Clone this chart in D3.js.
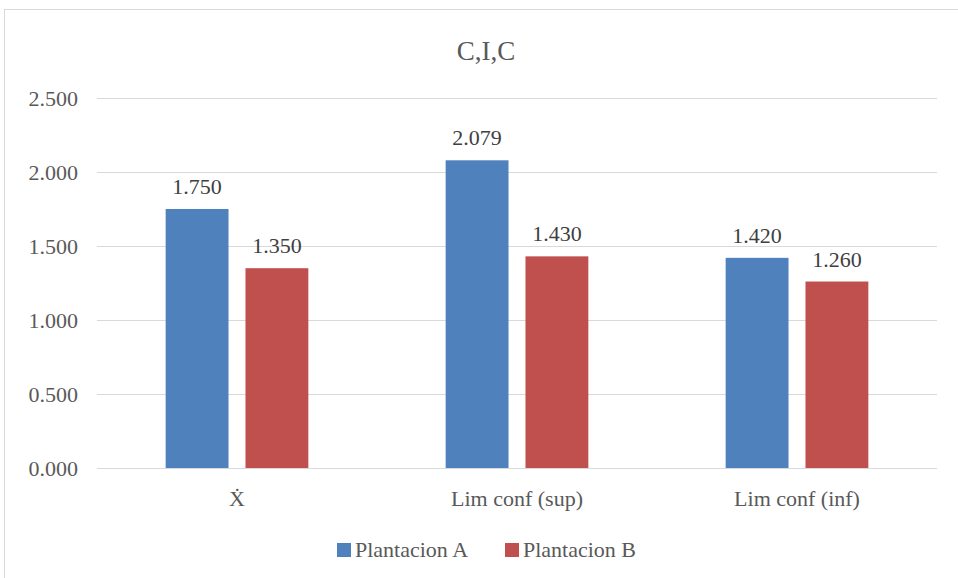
<!DOCTYPE html>
<html><head><meta charset="utf-8">
<script src="https://cdn.jsdelivr.net/npm/d3@7"></script>
<style>body{margin:0;background:#fff}svg{display:block}svg text{font-family:"Liberation Serif","Tinos","DejaVu Serif",serif}</style>
</head><body>
<script>
const categories = ["Ẋ", "Lim conf (sup)", "Lim conf (inf)"];
const seriesNames = ["Plantacion A", "Plantacion B"];
const plantacionA = [1.750, 2.079, 1.420];
const plantacionB = [1.350, 1.430, 1.260];
const yTicks = [0, 0.5, 1.0, 1.5, 2.0, 2.5];
const colors = ["#4F81BD", "#C0504D"];
const title = "C,I,C";

const W = 958, H = 578;
const font = "Liberation Serif, Tinos, DejaVu Serif, serif";
const svg = d3.select("body").append("svg").attr("width", W).attr("height", H)
  .attr("font-family", font);
svg.append("rect").attr("x", 4.5).attr("y", 9.5).attr("width", W).attr("height", H)
  .attr("fill", "#fff").attr("stroke", "#d9d9d9").attr("stroke-width", 1);

const m = {left: 97, right: 937, top: 98, bottom: 468};
const x = d3.scaleBand().domain(categories).range([m.left, m.right]).paddingInner(0).paddingOuter(0);
const x1 = d3.scaleBand().domain(seriesNames).range([0, x.bandwidth()]).paddingInner(0.2125).paddingOuter(0.86);
const y = d3.scaleLinear().domain([0, 2.5]).range([m.bottom, m.top]);

const yAxis = d3.axisLeft(y).tickValues(yTicks).tickSize(-(m.right - m.left)).tickFormat(d3.format(".3f"));
const gy = svg.append("g").attr("transform", `translate(${m.left},0)`).call(yAxis)
  .attr("font-family", font);
gy.select(".domain").remove();
gy.selectAll(".tick line").attr("stroke", "#d9d9d9").attr("stroke-width", 1);
gy.selectAll(".tick text").attr("x", -19).attr("fill", "#595959").attr("font-size", 22);

const data = categories.map((c, i) => ({c, vals: [plantacionA[i], plantacionB[i]]}));
const groups = svg.selectAll("g.cat").data(data).join("g").attr("class", "cat")
  .attr("transform", d => `translate(${x(d.c)},0)`);
groups.selectAll("rect").data(d => d.vals.map((v, j) => ({v, s: seriesNames[j], j})))
  .join("rect")
  .attr("x", d => x1(d.s)).attr("width", x1.bandwidth())
  .attr("y", d => y(d.v)).attr("height", d => y(0) - y(d.v))
  .attr("fill", d => colors[d.j]);
groups.selectAll("text.val").data(d => d.vals.map((v, j) => ({v, s: seriesNames[j], j})))
  .join("text").attr("class", "val")
  .attr("x", d => x1(d.s) + x1.bandwidth() / 2).attr("y", d => y(d.v) - 15)
  .attr("text-anchor", "middle").attr("fill", "#404040").attr("font-size", 22)
  .text(d => d3.format(".3f")(d.v));

svg.append("line").attr("x1", m.left).attr("x2", m.right).attr("y1", m.bottom + 0.5).attr("y2", m.bottom + 0.5)
  .attr("stroke", "#d9d9d9");
const xAxis = d3.axisBottom(x).tickSize(0).tickPadding(22);
const gx = svg.append("g").attr("transform", `translate(0,${m.bottom})`).call(xAxis)
  .attr("font-family", font);
gx.select(".domain").remove();
gx.selectAll(".tick text").attr("fill", "#595959").attr("font-size", 22);

svg.append("text").attr("x", 486).attr("y", 60).attr("text-anchor", "middle")
  .attr("fill", "#595959").attr("font-size", 27).text(title);

const legendX = [337, 505];
const lg = svg.append("g").selectAll("g").data(seriesNames).join("g")
  .attr("transform", (d, i) => `translate(${legendX[i]},543)`);
lg.append("rect").attr("width", 14).attr("height", 14).attr("fill", (d, i) => colors[i]);
lg.append("text").attr("x", 18).attr("y", 14).attr("fill", "#595959").attr("font-size", 22).text(d => d);
</script>
</body></html>
